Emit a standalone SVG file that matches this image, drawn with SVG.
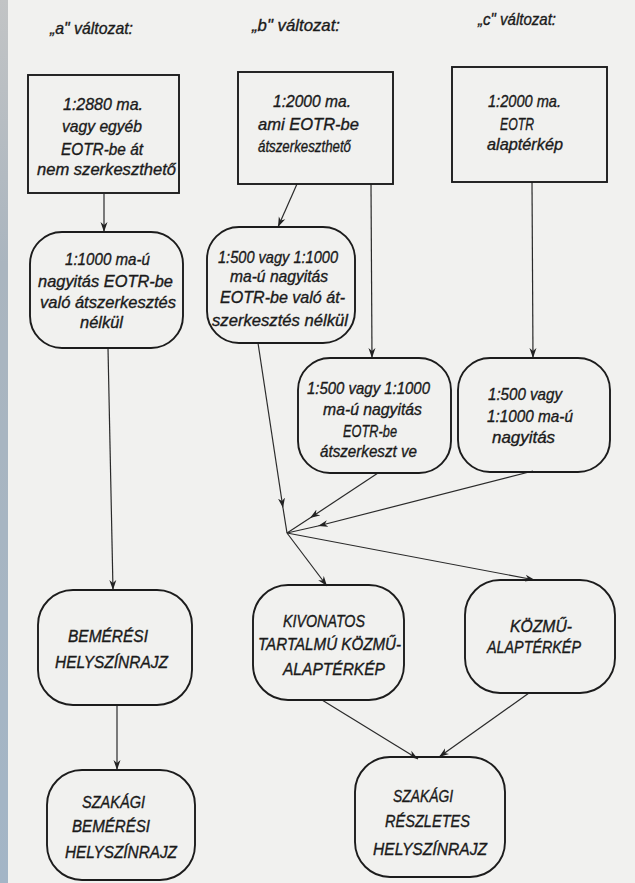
<svg xmlns="http://www.w3.org/2000/svg" width="635" height="883" viewBox="0 0 635 883">
<defs>
<linearGradient id="strip" x1="0" y1="0" x2="0" y2="1">
<stop offset="0" stop-color="#c2c4c5"/>
<stop offset="0.3" stop-color="#aab5bf"/>
<stop offset="1" stop-color="#a3b5c6"/>
</linearGradient>
<marker id="arr" markerUnits="userSpaceOnUse" markerWidth="12" markerHeight="10" refX="10" refY="4" orient="auto">
<path d="M0,0.5 L10,4 L0,7.5 L3,4 Z" fill="#222"/>
</marker>
<style>
.bg{fill:#f1f1ef}
.box{fill:none;stroke:#1c1c1c;stroke-width:1.9}
.t{font-family:"Liberation Sans","DejaVu Sans",sans-serif;font-style:italic;font-size:16.5px;fill:#1a1a1a;stroke:#1a1a1a;stroke-width:0.35}
.c{fill:none;stroke:#2a2a2a;stroke-width:1.2}
</style>
</defs>
<rect class="bg" x="0" y="0" width="635" height="883"/>
<rect x="0" y="0" width="8" height="883" fill="url(#strip)"/>

<g id="titles">
<text class="t" x="50" y="34" textLength="83" lengthAdjust="spacingAndGlyphs">„a" változat:</text>
<text class="t" x="252" y="31" textLength="88" lengthAdjust="spacingAndGlyphs">„b" változat:</text>
<text class="t" x="478" y="25" textLength="78" lengthAdjust="spacingAndGlyphs">„c" változat:</text>
</g>

<g id="connectors">
<path class="c" d="M104,194 L104,232" marker-end="url(#arr)"/>
<path class="c" d="M297,184 L278,227" marker-end="url(#arr)"/>
<path class="c" d="M371,184 L372,358" marker-end="url(#arr)"/>
<path class="c" d="M532,182 L533,358" marker-end="url(#arr)"/>
<path class="c" d="M108,348 L113,590" marker-end="url(#arr)"/>
<path class="c" d="M258,343 L283,508" marker-end="url(#arr)"/>
<path class="c" d="M283,508 L287,533"/>
<path class="c" d="M378,473 L310,518" marker-end="url(#arr)"/>
<path class="c" d="M310,518 L287,533"/>
<path class="c" d="M533,471 L318,526" marker-end="url(#arr)"/>
<path class="c" d="M318,526 L287,533"/>
<path class="c" d="M287,533 L327,586" marker-end="url(#arr)"/>
<path class="c" d="M287,533 L535,580" marker-end="url(#arr)"/>
<path class="c" d="M117,705 L117,770" marker-end="url(#arr)"/>
<path class="c" d="M322,700 L418,759" marker-end="url(#arr)"/>
<path class="c" d="M529,693 L439,757" marker-end="url(#arr)"/>
</g>

<g id="a1">
<rect class="box" x="28" y="75" width="151" height="118"/>
<text class="t" x="63" y="110" textLength="80" lengthAdjust="spacingAndGlyphs">1:2880  ma.</text>
<text class="t" x="62" y="132" textLength="80" lengthAdjust="spacingAndGlyphs">vagy  egyéb</text>
<text class="t" x="61" y="155" textLength="82" lengthAdjust="spacingAndGlyphs">EOTR-be  át</text>
<text class="t" x="37" y="175" textLength="139" lengthAdjust="spacingAndGlyphs">nem  szerkeszthető</text>
</g>

<g id="b1">
<rect class="box" x="238" y="72" width="155" height="112"/>
<text class="t" x="273" y="107" textLength="78" lengthAdjust="spacingAndGlyphs">1:2000  ma.</text>
<text class="t" x="258" y="130" textLength="101" lengthAdjust="spacingAndGlyphs">ami  EOTR-be</text>
<text class="t" x="258" y="152" textLength="93" lengthAdjust="spacingAndGlyphs">átszerkeszthető</text>
</g>

<g id="c1">
<rect class="box" x="452" y="67" width="155" height="115"/>
<text class="t" x="488" y="107" textLength="73" lengthAdjust="spacingAndGlyphs">1:2000 ma.</text>
<text class="t" x="500" y="130" textLength="34" lengthAdjust="spacingAndGlyphs">EOTR</text>
<text class="t" x="487" y="150" textLength="76" lengthAdjust="spacingAndGlyphs">alaptérkép</text>
</g>

<g id="a2">
<rect class="box" x="30" y="232" width="153" height="116" rx="32" ry="32"/>
<text class="t" x="65" y="265" textLength="85" lengthAdjust="spacingAndGlyphs">1:1000 ma-ú</text>
<text class="t" x="38" y="287" textLength="135" lengthAdjust="spacingAndGlyphs">nagyitás  EOTR-be</text>
<text class="t" x="40" y="308" textLength="136" lengthAdjust="spacingAndGlyphs">való  átszerkesztés</text>
<text class="t" x="80" y="328" textLength="43" lengthAdjust="spacingAndGlyphs">nélkül</text>
</g>

<g id="b2">
<rect class="box" x="207" y="227" width="148" height="116" rx="32" ry="32"/>
<text class="t" x="218" y="263" textLength="120" lengthAdjust="spacingAndGlyphs">1:500 vagy 1:1000</text>
<text class="t" x="230" y="282" textLength="98" lengthAdjust="spacingAndGlyphs">ma-ú nagyitás</text>
<text class="t" x="220" y="303" textLength="125" lengthAdjust="spacingAndGlyphs">EOTR-be való át-</text>
<text class="t" x="212" y="326" textLength="136" lengthAdjust="spacingAndGlyphs">szerkesztés nélkül</text>
</g>

<g id="b3">
<rect class="box" x="298" y="358" width="153" height="115" rx="32" ry="32"/>
<text class="t" x="307" y="394" textLength="123" lengthAdjust="spacingAndGlyphs">1:500  vagy  1:1000</text>
<text class="t" x="323" y="415" textLength="99" lengthAdjust="spacingAndGlyphs">ma-ú  nagyitás</text>
<text class="t" x="343" y="437" textLength="54" lengthAdjust="spacingAndGlyphs">EOTR-be</text>
<text class="t" x="320" y="457" textLength="97" lengthAdjust="spacingAndGlyphs">átszerkeszt ve</text>
</g>

<g id="c3">
<rect class="box" x="458" y="358" width="152" height="114" rx="32" ry="32"/>
<text class="t" x="488" y="400" textLength="74" lengthAdjust="spacingAndGlyphs">1:500  vagy</text>
<text class="t" x="487" y="422" textLength="86" lengthAdjust="spacingAndGlyphs">1:1000 ma-ú</text>
<text class="t" x="492" y="443" textLength="63" lengthAdjust="spacingAndGlyphs">nagyitás</text>
</g>

<g id="bemeresi">
<rect class="box" x="38" y="590" width="154" height="115" rx="35" ry="35"/>
<text class="t" x="68" y="642" textLength="80" lengthAdjust="spacingAndGlyphs">BEMÉRÉSI</text>
<text class="t" x="55" y="668" textLength="113" lengthAdjust="spacingAndGlyphs">HELYSZÍNRAJZ</text>
</g>

<g id="kivonatos">
<rect class="box" x="253" y="585" width="151" height="115" rx="35" ry="35"/>
<text class="t" x="283" y="627" textLength="82" lengthAdjust="spacingAndGlyphs">KIVONATOS</text>
<text class="t" x="258" y="650" textLength="143" lengthAdjust="spacingAndGlyphs">TARTALMÚ KÖZMŰ-</text>
<text class="t" x="283" y="675" textLength="102" lengthAdjust="spacingAndGlyphs">ALAPTÉRKÉP</text>
</g>

<g id="kozmu">
<rect class="box" x="465" y="580" width="150" height="113" rx="35" ry="35"/>
<text class="t" x="510" y="632" textLength="62" lengthAdjust="spacingAndGlyphs">KÖZMŰ-</text>
<text class="t" x="487" y="653" textLength="94" lengthAdjust="spacingAndGlyphs">ALAPTÉRKÉP</text>
</g>

<g id="szakagi-bemeresi">
<rect class="box" x="47" y="770" width="148" height="110" rx="35" ry="35"/>
<text class="t" x="82" y="808" textLength="63" lengthAdjust="spacingAndGlyphs">SZAKÁGI</text>
<text class="t" x="72" y="832" textLength="78" lengthAdjust="spacingAndGlyphs">BEMÉRÉSI</text>
<text class="t" x="65" y="858" textLength="112" lengthAdjust="spacingAndGlyphs">HELYSZÍNRAJZ</text>
</g>

<g id="szakagi-reszletes">
<rect class="box" x="355" y="757" width="150" height="120" rx="35" ry="35"/>
<text class="t" x="393" y="802" textLength="60" lengthAdjust="spacingAndGlyphs">SZAKÁGI</text>
<text class="t" x="385" y="827" textLength="85" lengthAdjust="spacingAndGlyphs">RÉSZLETES</text>
<text class="t" x="373" y="855" textLength="114" lengthAdjust="spacingAndGlyphs">HELYSZÍNRAJZ</text>
</g>
</svg>
